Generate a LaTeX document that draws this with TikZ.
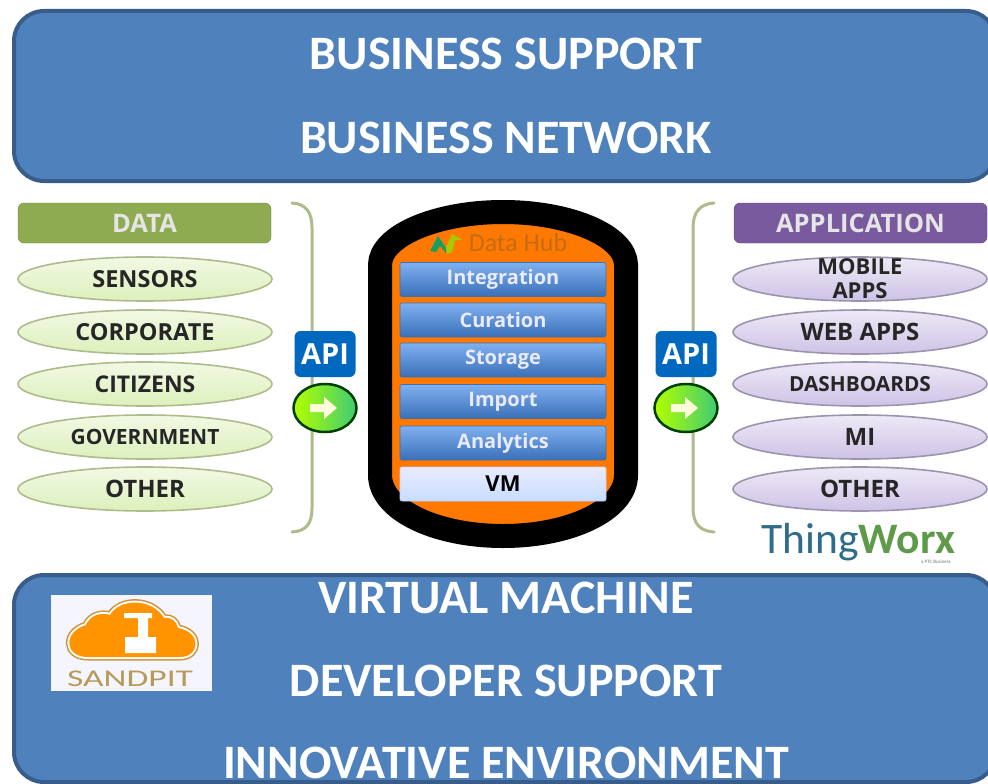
\documentclass[tikz,border=0pt]{standalone}
\usepackage{fontspec}
\setmainfont{Carlito}
\newfontfamily\wide{Open Sans}
\usetikzlibrary{shapes.geometric}
\definecolor{banner}{HTML}{4F81BD}
\definecolor{bannerline}{HTML}{385D8A}
\definecolor{bartop}{HTML}{7FB0F0}
\definecolor{barbot}{HTML}{3A70B8}
\definecolor{greenhead}{HTML}{8FAB52}
\definecolor{purplehead}{HTML}{7A5A9E}
\definecolor{braceline}{HTML}{AEBB8C}
\definecolor{hubtext}{HTML}{C46C14}
\definecolor{sandtext}{HTML}{B89A58}
\definecolor{pilltop}{HTML}{EEE9F6}
\definecolor{pillbot}{HTML}{CDC3E6}
\definecolor{pillline}{HTML}{9C94AE}
\definecolor{greentop}{HTML}{F1F9E4}
\definecolor{greenbot}{HTML}{DDF0BC}
\definecolor{twblue}{HTML}{2F6C8C}
\definecolor{twgreen}{HTML}{5E9A4A}
\tikzset{
 banner/.style={draw=bannerline,line width=4pt,fill=banner,rounded corners=30pt},
 bannertext/.style={text=white,font=\bfseries\fontsize{48}{48}\selectfont,anchor=center,inner sep=0pt},
 head/.style={rounded corners=6pt,minimum width=253pt,minimum height=40pt,inner sep=0pt,text=white!90!black,font=\wide\bfseries\fontsize{25.5}{25.5}\selectfont},
 pill/.style={ellipse,minimum width=254pt,minimum height=44pt,inner sep=0pt,line width=1.6pt,text=black!85,align=center},
 greenpill/.style={pill,draw=braceline,top color=greentop,bottom color=greenbot},
 purplepill/.style={pill,draw=pillline,top color=pilltop,bottom color=pillbot},
 hubbar/.style={rounded corners=2pt,minimum width=206pt,minimum height=34pt,inner sep=0pt,draw=barbot,line width=.6pt,top color=bartop,bottom color=barbot,text=white!92!blue,font=\wide\bfseries\fontsize{20}{20}\selectfont},
 vmbar/.style={hubbar,top color=white!92!blue,bottom color=blue!60!cyan!22,draw=blue!20,text=black,font=\wide\bfseries\fontsize{22}{22}\selectfont},
 apibox/.style={rounded corners=6pt,minimum width=61pt,minimum height=46pt,inner sep=0pt,fill=blue!45!cyan!75!black,text=white,font=\wide\bfseries\fontsize{29}{29}\selectfont},
 gocircle/.style={ellipse,minimum width=63pt,minimum height=48pt,inner sep=0pt,draw=black!75!green,line width=2.5pt,left color=yellow!70!green,right color=green!45!teal!75},
 brace/.style={draw=braceline,line width=3pt,line cap=round},
}
\newcommand{\pilltext}[2]{\wide\bfseries\fontsize{#1}{#1}\selectfont #2}
\begin{document}
\begin{tikzpicture}[x=1pt,y=-1pt]
\useasboundingbox (0,0) rectangle (988,784);
\fill[white] (0,0) rectangle (988,784);
\begin{scope}
\clip (0,0) rectangle (988,784);
\draw[banner] (14,11) rectangle (996,181);
\node[bannertext] (t1) at (506,54) {BUSINESS SUPPORT};
\node[bannertext] (t2) at (506,138) {BUSINESS NETWORK};
\draw[banner] (14,575) rectangle (996,782);
\node[bannertext] (b1) at (506,598) {VIRTUAL MACHINE};
\node[bannertext] (b2) at (506,681) {DEVELOPER SUPPORT};
\node[bannertext] (b3) at (506,763) {INNOVATIVE ENVIRONMENT};
\end{scope}
% logo
\fill[white!96!blue] (51,595) rectangle (212,691);
\def\cloudpath{(88,657) .. controls (64,657) and (63,632) .. (86,625)
 .. controls (90,615) and (102,612) .. (110,615)
 .. controls (120,598) and (152,598) .. (164,618)
 .. controls (172,617) and (176,621) .. (178,628)
 .. controls (202,632) and (200,657) .. (180,657) -- cycle}
\draw[draw=sandtext!60!orange,line width=7pt] \cloudpath;
\draw[draw=white,line width=4pt] \cloudpath;
\fill[orange!85!yellow] \cloudpath;
\fill[white] (124,613) rectangle (152,618) (138,618) rectangle (148,637) (125,637) rectangle (156,653);
\node[inner sep=0pt,text=sandtext,font=\fontsize{24}{24}\selectfont] (sand) at (130,679) {\scalebox{1.48}[1]{SANDPIT}};
% data
\node[head,fill=greenhead,draw=greenhead!80!black] (data) at (144.5,223) {DATA};
\node[greenpill] (s) at (145,279) {\pilltext{23.5}{SENSORS}};
\node[greenpill] (c) at (145,332) {\pilltext{23.5}{CORPORATE}};
\node[greenpill] (z) at (145,384) {\pilltext{23}{CITIZENS}};
\node[greenpill] (g) at (145,437) {\pilltext{21}{GOVERNMENT}};
\node[greenpill] (o) at (145,489) {\pilltext{24}{OTHER}};
% application
\node[head,fill=purplehead,draw=purplehead!80!black] (app) at (860.5,223) {APPLICATION};
\node[purplepill] (m) at (860,279) {};
\node[inner sep=0pt,align=center,text=black!85,font=\wide\bfseries\fontsize{22}{24}\selectfont] (mt) at (m.center) {MOBILE\\APPS};
\node[purplepill] (w) at (860,332) {\pilltext{24}{WEB APPS}};
\node[purplepill] (d) at (860,384) {\pilltext{20.8}{DASHBOARDS}};
\node[purplepill] (i) at (860,437) {\pilltext{24}{MI}};
\node[purplepill] (p) at (860,489) {\pilltext{24}{OTHER}};
% braces
\draw[brace] (292,203) .. controls (306,204) and (312,212) .. (312,228) -- (312,508) .. controls (312,524) and (306,531) .. (292,532);
\draw[brace] (714,203) .. controls (700,204) and (693,212) .. (693,228) -- (693,508) .. controls (693,524) and (700,531) .. (714,532);
% api
\node[apibox] (api1) at (325,354) {API};
\node[apibox] (api2) at (686,354) {API};
\node[gocircle] (go1) at (325,408) {};
\node[gocircle] (go2) at (686,408) {};
\foreach \g in {go1,go2}
 \fill[white!85!yellow] ([shift={(-15,-4)}]\g.center) -- ++(14,0) -- ++(0,-7) -- ++(13,11) -- ++(-13,11) -- ++(0,-7) -- ++(-14,0) -- cycle;
% hub
\draw[fill=orange!95!red,draw=black,line width=24pt] (380,265) .. controls (380,236) and (436,212) .. (503,212) .. controls (570,212) and (626,236) .. (626,265) -- (626,475) .. controls (626,510) and (570,536) .. (503,536) .. controls (436,536) and (380,510) .. (380,475) -- cycle;
\foreach \n/\y/\t in {h1/279.5/Integration,h2/320/Curation,h3/360/Storage,h4/401.5/Import,h5/443/Analytics}
 \node[hubbar] (\n) at (503,\y) {\t};
\node[vmbar] (h6) at (503,484) {VM};
\node[inner sep=0pt,text=hubtext,font=\fontsize{26}{26}\selectfont] (hubt) at (518,243) {Data Hub};
\fill[teal!70!green!80!gray] (430,251) -- (438,236) -- (446,248) -- (446,253) -- (440,246) -- (436,252) -- cycle;
\fill[lime!60!olive] (446,248) -- (452,234) -- (462,240) -- (455,240) -- (452,252) -- (447,254) -- cycle;
% thingworx
\node[inner sep=0pt,anchor=base west,font=\fontsize{43.5}{43.5}\selectfont,text=twblue] (tw) at (761,553) {Thing};
\node[inner sep=0pt,anchor=base west,font=\bfseries\fontsize{43.5}{43.5}\selectfont,text=twgreen] (wx) at (tw.base east) {Worx};
\node[inner sep=0pt,text=black!55,font=\fontsize{5}{5}\selectfont] (ptc) at (936,562) {a PTC Business};
\end{tikzpicture}
\end{document}
